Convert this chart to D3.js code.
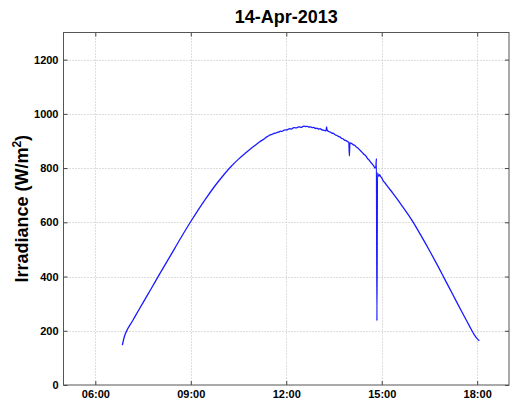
<!DOCTYPE html>
<html>
<head>
<meta charset="utf-8">
<script src="https://cdn.jsdelivr.net/npm/d3@7"></script>
<style>
  html, body { margin: 0; padding: 0; background: #fff; }
  svg { display: block; font-family: "Liberation Sans", Arial, sans-serif; }
</style>
</head>
<body>
<svg id="chart" width="510" height="402"></svg>
<script>
// Irradiance measurements for 14-Apr-2013 (local time, W/m^2)
const times = [
  "06:51","06:53","06:55","06:58","07:10","07:20","07:30","07:45","08:00","08:15",
  "08:30","08:45","09:00","09:15","09:30","09:45","10:00","10:15","10:30","10:45",
  "11:00","11:10","11:20","11:23","11:26","11:28","11:31","11:34","11:37","11:40",
  "11:43","11:46","11:49","11:52","11:55","11:58","12:01","12:04","12:07","12:10",
  "12:13","12:16","12:19","12:22","12:25","12:28","12:31","12:34","12:37","12:40",
  "12:43","12:46","12:49","12:52","12:55","12:58","13:01","13:04","13:07","13:10",
  "13:13","13:15","13:16","13:17","13:20","13:23","13:26","13:29","13:32","13:35",
  "13:38","13:41","13:44","13:47","13:50","13:53","13:56","13:58","13:59","14:00",
  "14:03","14:06","14:09","14:12","14:15","14:18","14:21","14:24","14:27","14:30",
  "14:33","14:36","14:39","14:42","14:45","14:47","14:49","14:50","14:51","14:52",
  "14:54","14:56","14:58","15:00","15:03","15:06","15:10","15:20","15:30","15:40",
  "15:50","16:00","16:15","16:30","16:45","17:00","17:15","17:30","17:45","17:55",
  "18:00","18:04"
];
const irradiance = [
  147, 165, 180, 195, 236, 270, 304, 354, 405, 455,
  505, 555, 603, 649, 692, 733, 770, 804, 833, 858,
  882, 897, 910, 915, 918, 921, 923, 925, 928, 929,
  932, 933, 936, 935, 939, 941, 940, 944, 945, 944,
  948, 949, 948, 951, 952, 950, 953, 955, 953, 954,
  951, 952, 949, 950, 946, 947, 944, 945, 941, 940,
  938, 937, 952, 940, 935, 933, 929, 928, 923, 921,
  917, 915, 910, 908, 903, 901, 897, 895, 845, 893,
  891, 886, 884, 878, 874, 868, 862, 856, 850, 845,
  836, 830, 822, 815, 808, 800, 805, 835, 237, 782,
  770, 776, 768, 764, 752, 746, 735, 710, 684, 656,
  628, 598, 548, 496, 442, 386, 330, 274, 219, 184,
  171, 163
];
const xTickLabels = ["06:00", "09:00", "12:00", "15:00", "18:00"];
const yTickValues = [0, 200, 400, 600, 800, 1000, 1200];
const chartTitle = "14-Apr-2013";

const parseTime = d3.timeParse("%H:%M");
const data = times.map((t, i) => ({ t: parseTime(t), v: irradiance[i] }));

const svg = d3.select("#chart");
const plotLeft = 63.5, plotRight = 509, plotTop = 32.5, plotBottom = 385;

const x = d3.scaleTime()
  .domain([parseTime("05:00"), parseTime("19:00")])
  .range([plotLeft, plotRight]);
const y = d3.scaleLinear().domain([0, 1300]).range([plotBottom, plotTop]);

const xTicks = xTickLabels.map(parseTime);
const px = v => Math.round(v) + 0.5;

// dotted grid
const grid = svg.append("g").attr("stroke", "#bdbdbd").attr("stroke-dasharray", "1,2").attr("stroke-width", 1);
xTicks.forEach(t => {
  grid.append("line").attr("x1", px(x(t))).attr("x2", px(x(t))).attr("y1", plotTop).attr("y2", plotBottom);
});
yTickValues.filter(v => v > 0).forEach(v => {
  grid.append("line").attr("x1", plotLeft).attr("x2", plotRight).attr("y1", px(y(v))).attr("y2", px(y(v)));
});

// irradiance trace
const line = d3.line().curve(d3.curveMonotoneX).x(d => x(d.t)).y(d => y(d.v));
svg.append("path")
  .datum(data)
  .attr("fill", "none")
  .attr("stroke", "#1a1aff")
  .attr("stroke-width", 1.3)
  .attr("stroke-linejoin", "round")
  .attr("d", line);

// bottom and left axes with inward ticks, mirrored on top and right
const xAxis = d3.axisBottom(x).tickValues(xTicks).tickFormat(d3.timeFormat("%H:%M"))
  .tickSizeInner(-4).tickSizeOuter(0).tickPadding(5);
const yAxis = d3.axisLeft(y).tickValues(yTickValues).tickFormat(d3.format("d"))
  .tickSizeInner(-4).tickSizeOuter(0).tickPadding(5);
const xTop = d3.axisTop(x).tickValues(xTicks).tickFormat("").tickSizeInner(-4).tickSizeOuter(0);
const yRight = d3.axisRight(y).tickValues(yTickValues).tickFormat("").tickSizeInner(-4).tickSizeOuter(0);

function styleAxis(g) {
  g.select(".domain").remove();
  g.selectAll("line").attr("stroke", "#444");
  g.selectAll("text").attr("fill", "#000").attr("font-size", 11).attr("font-weight", "bold")
    .attr("font-family", "'Liberation Sans', Arial, sans-serif");
}
svg.append("g").attr("transform", `translate(0,${plotBottom})`).call(xAxis).call(styleAxis);
svg.append("g").attr("transform", `translate(${plotLeft},0)`).call(yAxis).call(styleAxis);
svg.append("g").attr("transform", `translate(0,${plotTop})`).call(xTop).call(styleAxis);
svg.append("g").attr("transform", `translate(${plotRight},0)`).call(yRight).call(styleAxis);

// axes box
svg.append("rect")
  .attr("x", plotLeft).attr("y", plotTop)
  .attr("width", plotRight - plotLeft).attr("height", plotBottom - plotTop)
  .attr("fill", "none").attr("stroke", "#555").attr("stroke-width", 1);

// title
svg.append("text")
  .attr("x", (plotLeft + plotRight) / 2).attr("y", 22.5)
  .attr("text-anchor", "middle")
  .attr("font-size", 18).attr("font-weight", "bold")
  .text(chartTitle);

// y-axis label with superscript
const yl = svg.append("text")
  .attr("transform", `translate(28,${(plotTop + plotBottom) / 2}) rotate(-90)`)
  .attr("text-anchor", "middle")
  .attr("font-size", 18).attr("font-weight", "bold");
yl.append("tspan").text("Irradiance (W/m");
yl.append("tspan").attr("font-size", 12).attr("dy", -7).text("2");
yl.append("tspan").attr("dy", 7).text(")");
</script>
</body>
</html>
